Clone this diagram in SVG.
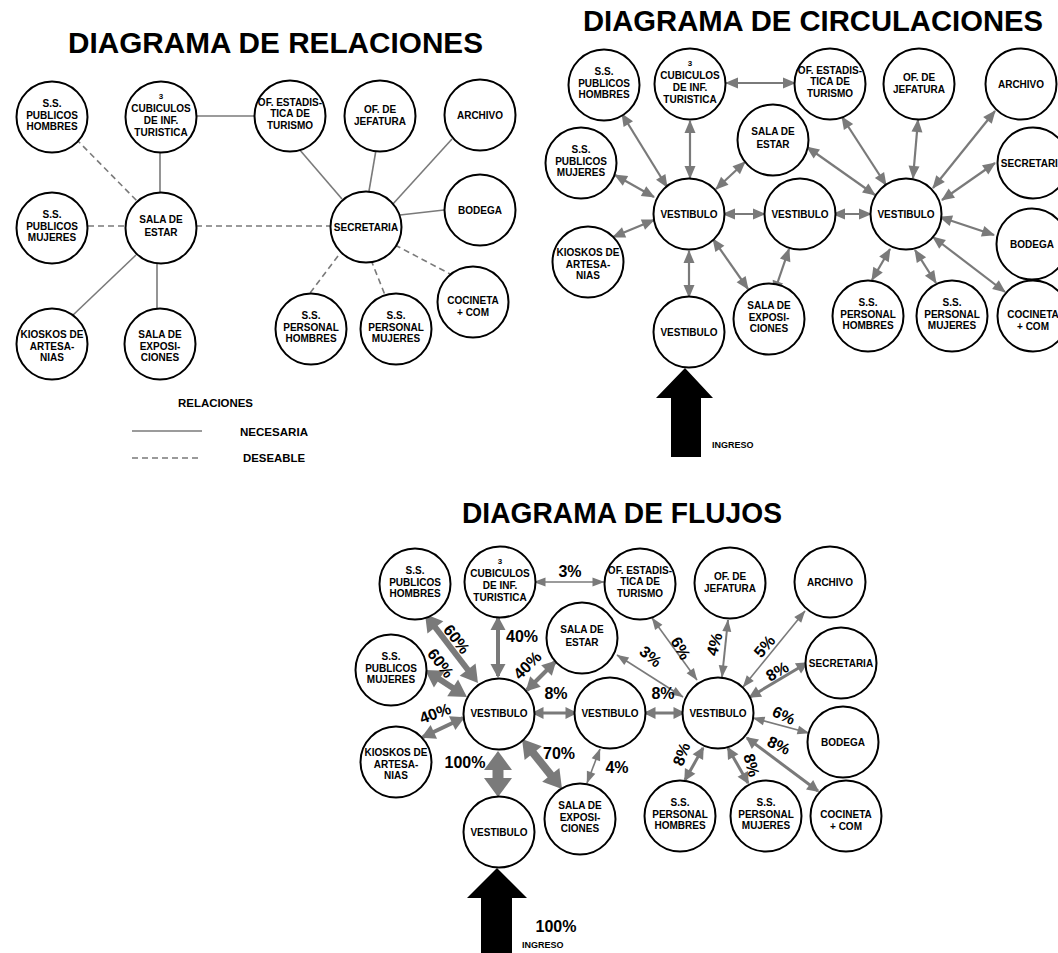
<svg xmlns="http://www.w3.org/2000/svg" width="1058" height="953" viewBox="0 0 1058 953">
<style>
text{font-family:"Liberation Sans",Arial,sans-serif;font-weight:bold;fill:#000}
.n circle{fill:#fff;stroke:#000;stroke-width:2}
.n text{font-size:10px;text-anchor:middle}
.n text.s{font-size:8px}
.title{font-size:29px;text-anchor:middle}
.pc{font-size:16px;text-anchor:middle}
.lg{font-size:11px}
.sl{stroke:#7a7a7a;stroke-width:1.6;fill:none}
.dl{stroke:#7a7a7a;stroke-width:1.6;fill:none;stroke-dasharray:6 4}
.ar{stroke:#7a7a7a;stroke-width:2.2;fill:none;marker-start:url(#ah);marker-end:url(#ah)}
.aS{stroke:#7a7a7a;stroke-width:1.6;fill:none;marker-start:url(#mS);marker-end:url(#mS)}
.aM{stroke:#7a7a7a;stroke-width:3;fill:none;marker-start:url(#mM);marker-end:url(#mM)}
.aL{stroke:#7a7a7a;stroke-width:4;fill:none;marker-start:url(#mL);marker-end:url(#mL)}
.aXL{stroke:#7a7a7a;stroke-width:6;fill:none;marker-start:url(#mXL);marker-end:url(#mXL)}
.aXL2{stroke:#7a7a7a;stroke-width:8;fill:none;marker-start:url(#mXL2);marker-end:url(#mXL2)}
.aXXL{stroke:#7a7a7a;stroke-width:11;fill:none;marker-start:url(#mXXL);marker-end:url(#mXXL)}
</style>
<defs>
<marker id="ah" markerUnits="userSpaceOnUse" markerWidth="13" markerHeight="11" refX="12" refY="5.5" orient="auto-start-reverse" overflow="visible"><path d="M0,0 L13,5.5 L0,11 z" fill="#7a7a7a"/></marker>
<marker id="mS" markerUnits="userSpaceOnUse" markerWidth="12" markerHeight="9" refX="11.5" refY="4.5" orient="auto-start-reverse" overflow="visible"><path d="M0,0 L12,4.5 L0,9 z" fill="#7a7a7a"/></marker>
<marker id="mM" markerUnits="userSpaceOnUse" markerWidth="12" markerHeight="12" refX="10.5" refY="6" orient="auto-start-reverse" overflow="visible"><path d="M0,0 L12,6 L0,12 z" fill="#7a7a7a"/></marker>
<marker id="mL" markerUnits="userSpaceOnUse" markerWidth="14" markerHeight="15" refX="12" refY="7.5" orient="auto-start-reverse" overflow="visible"><path d="M0,0 L14,7.5 L0,15 z" fill="#7a7a7a"/></marker>
<marker id="mXL" markerUnits="userSpaceOnUse" markerWidth="17" markerHeight="20" refX="8.5" refY="10" orient="auto-start-reverse" overflow="visible"><path d="M0,0 L17,10 L0,20 z" fill="#7a7a7a"/></marker>
<marker id="mXL2" markerUnits="userSpaceOnUse" markerWidth="18" markerHeight="22" refX="9" refY="11" orient="auto-start-reverse" overflow="visible"><path d="M0,0 L18,11 L0,22 z" fill="#7a7a7a"/></marker>
<marker id="mXXL" markerUnits="userSpaceOnUse" markerWidth="19" markerHeight="28" refX="9.5" refY="14" orient="auto-start-reverse" overflow="visible"><path d="M0,0 L19,14 L0,28 z" fill="#7a7a7a"/></marker>
</defs>
<rect width="1058" height="953" fill="#fff"/>

<text class="title" x="275.5" y="53" textLength="415" lengthAdjust="spacingAndGlyphs">DIAGRAMA DE RELACIONES</text>
<text class="title" x="813" y="31" textLength="460" lengthAdjust="spacingAndGlyphs">DIAGRAMA DE CIRCULACIONES</text>
<text class="title" x="622" y="523" textLength="320" lengthAdjust="spacingAndGlyphs">DIAGRAMA DE FLUJOS</text>

<!-- connectors: relaciones -->
<g id="connectors-relaciones">
<line class="sl" x1="197" y1="116" x2="255" y2="116"/>
<line class="sl" x1="160" y1="153" x2="160" y2="192"/>
<line class="sl" x1="136" y1="255" x2="72" y2="316"/>
<line class="sl" x1="157" y1="262" x2="157" y2="308"/>
<line class="sl" x1="299" y1="149" x2="342" y2="199"/>
<line class="sl" x1="376" y1="150" x2="369" y2="191"/>
<line class="sl" x1="452" y1="139" x2="392" y2="205"/>
<line class="sl" x1="400" y1="215" x2="444" y2="210"/>
<line class="dl" x1="76" y1="139" x2="137" y2="201"/>
<line class="dl" x1="88" y1="226" x2="125" y2="226"/>
<line class="dl" x1="196" y1="226" x2="331" y2="226"/>
<line class="dl" x1="338" y1="256" x2="310" y2="293"/>
<line class="dl" x1="371" y1="260" x2="385" y2="295"/>
<line class="dl" x1="395" y1="245" x2="452" y2="275"/>
</g>

<!-- connectors: circulaciones -->
<g id="connectors-circulaciones">
<line class="ar" x1="622" y1="114" x2="667" y2="187"/>
<line class="ar" x1="690" y1="121" x2="690" y2="178"/>
<line class="ar" x1="615" y1="175" x2="654" y2="197"/>
<line class="ar" x1="745" y1="162" x2="716" y2="189"/>
<line class="ar" x1="726" y1="83" x2="795" y2="83"/>
<line class="ar" x1="723" y1="214" x2="765" y2="214"/>
<line class="ar" x1="833" y1="214" x2="871" y2="214"/>
<line class="ar" x1="654" y1="220" x2="613" y2="237"/>
<line class="ar" x1="689" y1="251" x2="689" y2="297"/>
<line class="ar" x1="713" y1="239" x2="748" y2="289"/>
<line class="ar" x1="789" y1="249" x2="774" y2="293"/>
<line class="ar" x1="842" y1="117" x2="886" y2="185"/>
<line class="ar" x1="807" y1="147" x2="875" y2="195"/>
<line class="ar" x1="918" y1="120" x2="913" y2="178"/>
<line class="ar" x1="995" y1="111" x2="933" y2="188"/>
<line class="ar" x1="995" y1="163" x2="942" y2="200"/>
<line class="ar" x1="940" y1="217" x2="994" y2="235"/>
<line class="ar" x1="933" y1="237" x2="1005" y2="292"/>
<line class="ar" x1="890" y1="249" x2="872" y2="280"/>
<line class="ar" x1="915" y1="250" x2="936" y2="283"/>
</g>

<!-- connectors: flujos -->
<g id="connectors-flujos">
<line class="aS" x1="534" y1="582" x2="604" y2="582"/>
<line class="aS" x1="617" y1="655" x2="683" y2="697"/>
<line class="aS" x1="652" y1="618" x2="697" y2="680"/>
<line class="aS" x1="805" y1="611" x2="743" y2="687"/>
<line class="aS" x1="753" y1="718" x2="809" y2="733"/>
<line class="aS" x1="600" y1="749" x2="587" y2="783"/>
<line class="aS" x1="728" y1="620" x2="722" y2="677" style="stroke-width:2"/>
<line class="aM" x1="533" y1="713" x2="576" y2="713"/>
<line class="aM" x1="645" y1="713" x2="684" y2="713"/>
<line class="aM" x1="807" y1="663" x2="750" y2="697"/>
<line class="aM" x1="747" y1="738" x2="818" y2="791"/>
<line class="aM" x1="728" y1="748" x2="748" y2="783"/>
<line class="aM" x1="703" y1="748" x2="685" y2="780"/>
<line class="aL" x1="498" y1="618" x2="498" y2="676"/>
<line class="aL" x1="555" y1="662" x2="527" y2="690"/>
<line class="aL" x1="463" y1="718" x2="423" y2="737"/>
<line class="aXL" x1="430.2" y1="620.7" x2="472.8" y2="676.3"/>
<line class="aXL" x1="432.2" y1="674.6" x2="459.8" y2="692.4"/>
<line class="aXL2" x1="527.6" y1="746" x2="556.4" y2="782"/>
<line class="aXXL" x1="498" y1="760.5" x2="498" y2="787.5"/>
</g>

<!-- ingreso arrows -->
<g id="ingreso-1">
<polygon points="685,368 713,398 701,398 701,457 671,457 671,398 656,398" fill="#000"/>
<text x="712" y="448" font-size="9">INGRESO</text>
</g>
<g id="ingreso-2">
<polygon points="497,868 527,898 512,898 512,953 481,953 481,898 467,898" fill="#000"/>
<text class="pc" x="556" y="932">100%</text>
<text x="522" y="948" font-size="9">INGRESO</text>
</g>

<!-- legend -->
<g id="legend">
<text class="lg" x="178" y="407" textLength="75" lengthAdjust="spacingAndGlyphs">RELACIONES</text>
<line class="sl" x1="132" y1="431" x2="202" y2="431"/>
<text class="lg" x="240" y="436" textLength="68" lengthAdjust="spacingAndGlyphs">NECESARIA</text>
<line class="dl" x1="132" y1="458" x2="202" y2="458"/>
<text class="lg" x="243" y="462" textLength="62" lengthAdjust="spacingAndGlyphs">DESEABLE</text>
</g>

<!-- percent labels -->
<g id="percent-labels">
<text class="pc" x="570" y="577">3%</text>
<text class="pc" x="522" y="642">40%</text>
<text class="pc" transform="translate(457,639) rotate(52)" y="6">60%</text>
<text class="pc" transform="translate(441,663) rotate(52)" y="6">60%</text>
<text class="pc" transform="translate(527,665) rotate(-45)" y="6">40%</text>
<text class="pc" x="556" y="699">8%</text>
<text class="pc" x="663" y="699">8%</text>
<text class="pc" transform="translate(651,656) rotate(40)" y="6">3%</text>
<text class="pc" transform="translate(681,648) rotate(60)" y="6">6%</text>
<text class="pc" transform="translate(714,644) rotate(-75)" y="6">4%</text>
<text class="pc" transform="translate(764,646) rotate(-50)" y="6">5%</text>
<text class="pc" transform="translate(777,671) rotate(-30)" y="6">8%</text>
<text class="pc" transform="translate(784,715) rotate(25)" y="6">6%</text>
<text class="pc" transform="translate(779,745) rotate(25)" y="6">8%</text>
<text class="pc" transform="translate(752,765) rotate(75)" y="6">8%</text>
<text class="pc" transform="translate(681,754) rotate(-70)" y="6">8%</text>
<text class="pc" transform="translate(435,713) rotate(-20)" y="6">40%</text>
<text class="pc" x="465" y="768">100%</text>
<text class="pc" x="559" y="759">70%</text>
<text class="pc" x="617" y="773">4%</text>
</g>

<!-- nodes: relaciones -->
<g id="rel-ss-hombres" class="n"><circle cx="52" cy="117" r="35.5"/><text x="52" y="107">S.S.</text><text x="52" y="118.5">PUBLICOS</text><text x="52" y="130">HOMBRES</text></g>
<g id="rel-cubiculos" class="n"><circle cx="161" cy="117" r="35.5"/><text class="s" x="161" y="99">3</text><text x="161" y="112">CUBICULOS</text><text x="161" y="124">DE INF.</text><text x="161" y="136">TURISTICA</text></g>
<g id="rel-of-estadistica" class="n"><circle cx="290" cy="116" r="35.5"/><text x="290" y="106">OF. ESTADIS-</text><text x="290" y="117">TICA DE</text><text x="290" y="128.5">TURISMO</text></g>
<g id="rel-jefatura" class="n"><circle cx="380" cy="116" r="35.5"/><text x="380" y="112.5">OF. DE</text><text x="380" y="124.5">JEFATURA</text></g>
<g id="rel-archivo" class="n"><circle cx="480" cy="115" r="35.5"/><text x="480" y="118.5">ARCHIVO</text></g>
<g id="rel-ss-mujeres" class="n"><circle cx="52" cy="228" r="35.5"/><text x="52" y="218">S.S.</text><text x="52" y="229.5">PUBLICOS</text><text x="52" y="241">MUJERES</text></g>
<g id="rel-sala-estar" class="n"><circle cx="161" cy="228" r="35.5"/><text x="161" y="223">SALA DE</text><text x="161" y="236">ESTAR</text></g>
<g id="rel-secretaria" class="n"><circle cx="366" cy="227" r="35.5"/><text x="366" y="230.5">SECRETARIA</text></g>
<g id="rel-bodega" class="n"><circle cx="480" cy="210" r="35.5"/><text x="480" y="213.5">BODEGA</text></g>
<g id="rel-kioskos" class="n"><circle cx="52" cy="344" r="35.5"/><text x="52" y="338">KIOSKOS DE</text><text x="52" y="349.5">ARTESA-</text><text x="52" y="361">NIAS</text></g>
<g id="rel-exposiciones" class="n"><circle cx="160" cy="344" r="35.5"/><text x="160" y="338">SALA DE</text><text x="160" y="349.5">EXPOSI-</text><text x="160" y="361">CIONES</text></g>
<g id="rel-personal-hombres" class="n"><circle cx="311" cy="329" r="35.5"/><text x="311" y="319">S.S.</text><text x="311" y="330.5">PERSONAL</text><text x="311" y="342">HOMBRES</text></g>
<g id="rel-personal-mujeres" class="n"><circle cx="396" cy="329" r="35.5"/><text x="396" y="319">S.S.</text><text x="396" y="330.5">PERSONAL</text><text x="396" y="342">MUJERES</text></g>
<g id="rel-cocineta" class="n"><circle cx="473" cy="302" r="35.5"/><text x="473" y="304">COCINETA</text><text x="473" y="316">+ COM</text></g>

<!-- nodes: circulaciones -->
<g id="cir-ss-hombres" class="n"><circle cx="604" cy="85" r="35.5"/><text x="604" y="75">S.S.</text><text x="604" y="86.5">PUBLICOS</text><text x="604" y="98">HOMBRES</text></g>
<g id="cir-cubiculos" class="n"><circle cx="690" cy="84" r="35.5"/><text class="s" x="690" y="66">3</text><text x="690" y="79">CUBICULOS</text><text x="690" y="91">DE INF.</text><text x="690" y="103">TURISTICA</text></g>
<g id="cir-of-estadistica" class="n"><circle cx="830" cy="84" r="35.5"/><text x="830" y="74">OF. ESTADIS-</text><text x="830" y="85">TICA DE</text><text x="830" y="96.5">TURISMO</text></g>
<g id="cir-jefatura" class="n"><circle cx="919" cy="84" r="35.5"/><text x="919" y="80.5">OF. DE</text><text x="919" y="92.5">JEFATURA</text></g>
<g id="cir-archivo" class="n"><circle cx="1021" cy="84" r="35.5"/><text x="1021" y="87.5">ARCHIVO</text></g>
<g id="cir-ss-mujeres" class="n"><circle cx="581" cy="163" r="35.5"/><text x="581" y="153">S.S.</text><text x="581" y="164.5">PUBLICOS</text><text x="581" y="176">MUJERES</text></g>
<g id="cir-sala-estar" class="n"><circle cx="773" cy="140" r="35.5"/><text x="773" y="135">SALA DE</text><text x="773" y="148">ESTAR</text></g>
<g id="cir-secretaria" class="n"><circle cx="1033" cy="163" r="35.5"/><text x="1033" y="166.5">SECRETARIA</text></g>
<g id="cir-vestibulo-1" class="n"><circle cx="689" cy="214" r="35.5"/><text x="689" y="217.5">VESTIBULO</text></g>
<g id="cir-vestibulo-2" class="n"><circle cx="800" cy="214" r="35.5"/><text x="800" y="217.5">VESTIBULO</text></g>
<g id="cir-vestibulo-3" class="n"><circle cx="906" cy="214" r="35.5"/><text x="906" y="217.5">VESTIBULO</text></g>
<g id="cir-bodega" class="n"><circle cx="1032" cy="244" r="35.5"/><text x="1032" y="247.5">BODEGA</text></g>
<g id="cir-kioskos" class="n"><circle cx="588" cy="262" r="35.5"/><text x="588" y="256">KIOSKOS DE</text><text x="588" y="267.5">ARTESA-</text><text x="588" y="279">NIAS</text></g>
<g id="cir-vestibulo-ingreso" class="n"><circle cx="689" cy="332" r="35.5"/><text x="689" y="335.5">VESTIBULO</text></g>
<g id="cir-exposiciones" class="n"><circle cx="769" cy="319" r="35.5"/><text x="769" y="309">SALA DE</text><text x="769" y="320.5">EXPOSI-</text><text x="769" y="332">CIONES</text></g>
<g id="cir-personal-hombres" class="n"><circle cx="868" cy="316" r="35.5"/><text x="868" y="306">S.S.</text><text x="868" y="317.5">PERSONAL</text><text x="868" y="329">HOMBRES</text></g>
<g id="cir-personal-mujeres" class="n"><circle cx="952" cy="316" r="35.5"/><text x="952" y="306">S.S.</text><text x="952" y="317.5">PERSONAL</text><text x="952" y="329">MUJERES</text></g>
<g id="cir-cocineta" class="n"><circle cx="1033" cy="316" r="35.5"/><text x="1033" y="318">COCINETA</text><text x="1033" y="330">+ COM</text></g>

<!-- nodes: flujos -->
<g id="flu-ss-hombres" class="n"><circle cx="415" cy="584" r="35.5"/><text x="415" y="574">S.S.</text><text x="415" y="585.5">PUBLICOS</text><text x="415" y="597">HOMBRES</text></g>
<g id="flu-cubiculos" class="n"><circle cx="500" cy="582" r="35.5"/><text class="s" x="500" y="564">3</text><text x="500" y="577">CUBICULOS</text><text x="500" y="589">DE INF.</text><text x="500" y="601">TURISTICA</text></g>
<g id="flu-of-estadistica" class="n"><circle cx="640" cy="584" r="35.5"/><text x="640" y="574">OF. ESTADIS-</text><text x="640" y="585">TICA DE</text><text x="640" y="596.5">TURISMO</text></g>
<g id="flu-jefatura" class="n"><circle cx="730" cy="583" r="35.5"/><text x="730" y="579.5">OF. DE</text><text x="730" y="591.5">JEFATURA</text></g>
<g id="flu-archivo" class="n"><circle cx="830" cy="582" r="35.5"/><text x="830" y="585.5">ARCHIVO</text></g>
<g id="flu-sala-estar" class="n"><circle cx="582" cy="638" r="35.5"/><text x="582" y="633">SALA DE</text><text x="582" y="646">ESTAR</text></g>
<g id="flu-ss-mujeres" class="n"><circle cx="391" cy="670" r="35.5"/><text x="391" y="660">S.S.</text><text x="391" y="671.5">PUBLICOS</text><text x="391" y="683">MUJERES</text></g>
<g id="flu-secretaria" class="n"><circle cx="841" cy="663" r="35.5"/><text x="841" y="666.5">SECRETARIA</text></g>
<g id="flu-vestibulo-1" class="n"><circle cx="499" cy="714" r="35.5"/><text x="499" y="717">VESTIBULO</text></g>
<g id="flu-vestibulo-2" class="n"><circle cx="610" cy="713" r="35.5"/><text x="610" y="716.5">VESTIBULO</text></g>
<g id="flu-vestibulo-3" class="n"><circle cx="718" cy="713" r="35.5"/><text x="718" y="716.5">VESTIBULO</text></g>
<g id="flu-bodega" class="n"><circle cx="843" cy="742" r="35.5"/><text x="843" y="745.5">BODEGA</text></g>
<g id="flu-kioskos" class="n"><circle cx="396" cy="762" r="35.5"/><text x="396" y="756">KIOSKOS DE</text><text x="396" y="767.5">ARTESA-</text><text x="396" y="779">NIAS</text></g>
<g id="flu-vestibulo-ingreso" class="n"><circle cx="499" cy="832" r="35.5"/><text x="499" y="835.5">VESTIBULO</text></g>
<g id="flu-exposiciones" class="n"><circle cx="580" cy="819" r="35.5"/><text x="580" y="809">SALA DE</text><text x="580" y="820.5">EXPOSI-</text><text x="580" y="832">CIONES</text></g>
<g id="flu-personal-hombres" class="n"><circle cx="680" cy="816" r="35.5"/><text x="680" y="806">S.S.</text><text x="680" y="817.5">PERSONAL</text><text x="680" y="829">HOMBRES</text></g>
<g id="flu-personal-mujeres" class="n"><circle cx="766" cy="816" r="35.5"/><text x="766" y="806">S.S.</text><text x="766" y="817.5">PERSONAL</text><text x="766" y="829">MUJERES</text></g>
<g id="flu-cocineta" class="n"><circle cx="846" cy="816" r="35.5"/><text x="846" y="818">COCINETA</text><text x="846" y="830">+ COM</text></g>
</svg>
